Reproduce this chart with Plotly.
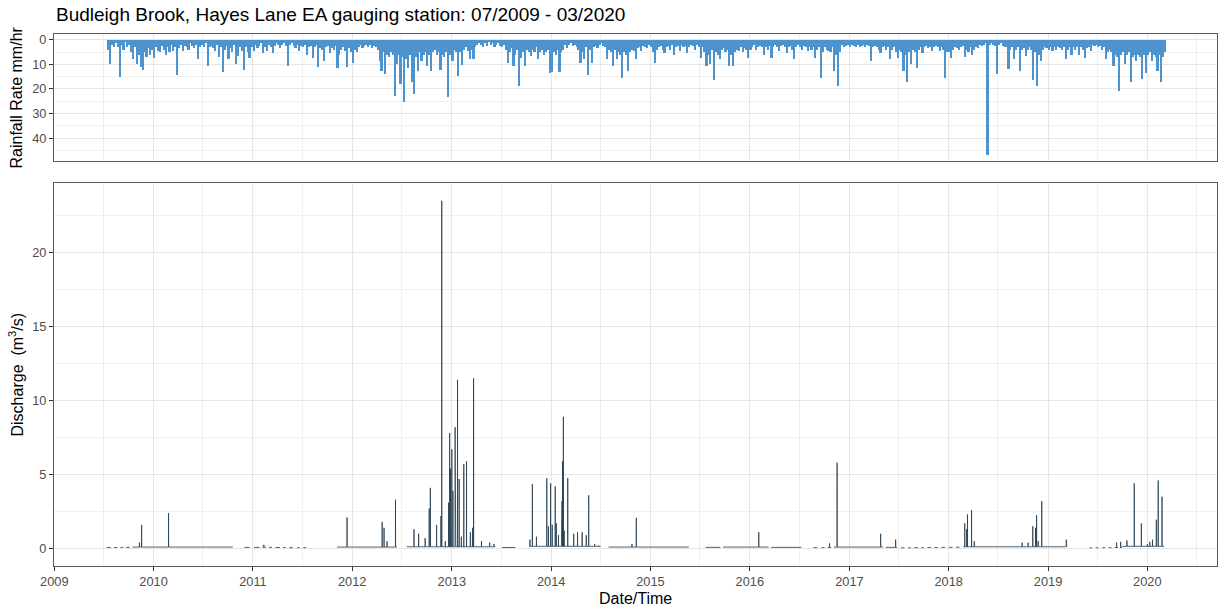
import pandas as pd
import plotly.graph_objects as go

# ---------------------------------------------------------------
# Weekly peak rainfall rate (mm/hr), one list per calendar year.
# Values start at the week index given in RAIN_FIRST_WEEK.
# ---------------------------------------------------------------
rain_2009 = [4, 10, 2, 3, 1.5, 3, 15.2, 2, 4, 1, 3, 2, 5, 8, 3, 10, 6, 11, 12.4, 5, 7, 3.5, 6, 4]
rain_2010 = [7.4, 3, 4.5, 5, 2.5, 4, 6, 3, 5, 2, 4.5, 3, 14.4, 3.5, 2, 4.7, 2.5, 3, 4, 1.5, 2.5, 3.5, 2, 8, 3, 2,
             3, 1.5, 10.5, 3, 2.5, 3.5, 4.7, 2, 7, 3, 13.2, 4, 2.5, 8, 3.5, 5, 2, 10, 6.5, 3, 4.5, 12.1, 3, 5, 7.4, 3]
rain_2011 = [4.7, 2, 3.4, 2.5, 1.5, 5.4, 3, 4.7, 2, 3, 5.4, 2.5, 1.5, 2, 3.4, 2, 1.5, 2.5, 10.5, 2, 1.5, 2.5, 3.4, 2,
             4.7, 2.5, 3, 2, 6, 3, 2.5, 7.4, 3, 2, 11, 3.5, 4, 8.8, 3, 2.5, 5.4, 3.5, 4, 2.5, 11.5, 6.1, 4, 3, 4.5,
             11.2, 3.5, 5]
rain_2012 = [9.5, 4, 5, 3, 2, 3.4, 2.5, 2, 3, 2, 3.4, 2.5, 3, 4, 8.8, 12.8, 5, 14, 6, 7, 5, 6, 23, 10, 6, 18.2, 7,
             25.4, 8, 11.5, 6, 17, 22, 7, 12.8, 5, 8.8, 6, 5, 10.5, 6, 12.8, 5, 4, 6, 5, 12.5, 6, 7, 5, 23.4, 6]
rain_2013 = [8.8, 4, 5, 14.6, 5, 10.3, 4, 3, 4.5, 8, 4, 8, 3, 2, 1.5, 2, 3, 1.5, 2.5, 1, 2, 1.5, 3, 2, 1.5, 2.5, 3,
             2, 4, 9.5, 5, 3.5, 10.7, 6, 4, 19, 7.4, 5, 10.7, 4, 5, 6.8, 4, 5, 3, 8, 5, 4, 6, 5, 4, 13.6]
rain_2014 = [13, 5, 6, 4, 13, 5, 4, 2, 3.4, 2, 1.5, 2.5, 2, 3, 4, 9.5, 5, 8, 3, 14.4, 4, 9.5, 3, 2.5, 3.4, 2, 1.5,
             2.5, 3, 8, 4, 5, 10.7, 4, 8, 5, 6, 15.4, 5, 6, 12.8, 5, 4, 4.5, 8, 3.5, 3, 4.7, 2.5, 3, 3.4, 2]
rain_2015 = [3, 5, 9.4, 4, 3, 2.5, 4, 5.4, 3, 2.5, 4, 2, 6, 3, 2.5, 4.7, 2, 3, 2.5, 5.4, 3, 2, 2.5, 4, 2, 3, 7.4, 3,
             5, 10.7, 6, 10, 4, 16.3, 5, 6, 8, 4, 3.5, 5, 4, 10.7, 6, 10.7, 5, 4, 4.7, 3, 5, 3.5, 4, 7.4]
rain_2016 = [4, 3, 2, 4, 3, 2.5, 3, 6, 3, 4, 2.5, 7.4, 3, 2, 3, 4.7, 2.5, 2, 3, 5.4, 3, 2.5, 4, 8, 3, 2, 3, 4, 2.5,
             3, 4.7, 3, 4, 3, 7.4, 4, 3, 15.5, 5, 3, 4, 4.7, 5, 3, 12.8, 6, 19, 5, 2, 3, 2.5, 2]
rain_2017 = [3, 2, 2.5, 3, 2, 3, 2.5, 2, 3, 2, 2.5, 8.8, 3, 2.5, 3, 4, 5.4, 3, 2.5, 4, 3, 8, 4, 3, 5, 7.4, 4, 5,
             12.8, 6, 17, 5, 10, 4, 5, 11.5, 4, 3, 5.4, 3, 2.5, 3.5, 3, 4.7, 3, 2.5, 3, 4.7, 3, 4, 15.5, 5]
rain_2018 = [5, 7.4, 4, 3, 3.5, 4, 3, 2.5, 7, 4, 5, 3, 6, 4, 3, 3.5, 2, 2.5, 2, 1.5, 47, 2, 1.5, 2, 2.5, 14, 2, 1.5,
             2.5, 3, 3, 12, 4, 3, 8, 4, 3, 12.8, 4, 3.5, 6.8, 4, 3, 4, 16.3, 5, 19, 6, 8.8, 4, 3, 3.5]
rain_2019 = [4, 3, 4.5, 3, 4, 3, 3.5, 4, 3, 8, 4, 3, 6, 3, 4, 3, 6, 3, 4, 7.4, 3.5, 3, 4.7, 2, 2.5, 2, 3, 2.5, 4, 3,
             8, 5, 4, 5, 10.7, 6, 7, 21, 6, 5, 10, 6, 5, 17, 7, 6, 8.8, 6, 7, 16, 6, 13.5]
rain_2020 = [6, 5, 8.8, 6, 7, 12.8, 6, 17.2, 7, 5]

RAIN_YEARS = [2009, 2010, 2011, 2012, 2013, 2014, 2015, 2016, 2017, 2018, 2019, 2020]
RAIN_LISTS = [rain_2009, rain_2010, rain_2011, rain_2012, rain_2013, rain_2014,
              rain_2015, rain_2016, rain_2017, rain_2018, rain_2019, rain_2020]
RAIN_FIRST_WEEK = [28, 0, 0, 0, 0, 0, 0, 0, 0, 0, 0, 0]

# ---------------------------------------------------------------
# River discharge (m3/s): baseflow runs and storm peaks.
# ---------------------------------------------------------------
flow_run_start = ["2009-07-13", "2009-08-08", "2009-09-01", "2009-09-22", "2009-10-15",
                  "2010-12-01", "2011-01-05", "2011-02-05", "2011-03-01", "2011-03-25", "2011-04-22",
                  "2011-05-15", "2011-06-12", "2011-07-05",
                  "2011-11-06", "2012-07-19", "2013-07-05", "2013-10-12", "2014-07-31",
                  "2015-07-23", "2015-09-25", "2016-03-20",
                  "2016-08-22", "2016-09-20", "2016-10-14", "2016-11-05", "2017-05-15",
                  "2017-07-10", "2017-08-05", "2017-08-28", "2017-09-22", "2017-10-15", "2017-11-10",
                  "2017-12-05", "2018-01-02", "2018-01-28",
                  "2018-02-24",
                  "2019-06-03", "2019-06-25", "2019-07-20", "2019-08-12", "2019-09-03", "2019-09-22",
                  "2019-10-01"]
flow_run_end = ["2009-07-28", "2009-08-20", "2009-09-12", "2009-10-05", "2010-10-19",
                "2010-12-20", "2011-01-25", "2011-02-18", "2011-03-12", "2011-04-10", "2011-05-02",
                "2011-05-28", "2011-06-22", "2011-07-16",
                "2012-06-13", "2013-06-10", "2013-08-22", "2014-07-02", "2015-05-22",
                "2015-09-15", "2016-03-10", "2016-07-08",
                "2016-09-05", "2016-10-02", "2016-10-26", "2017-05-05", "2017-06-25",
                "2017-07-22", "2017-08-15", "2017-09-10", "2017-10-02", "2017-10-28", "2017-11-22",
                "2017-12-18", "2018-01-15", "2018-02-10",
                "2019-03-11",
                "2019-06-12", "2019-07-05", "2019-07-30", "2019-08-22", "2019-09-15", "2019-09-30",
                "2020-03-03"]
flow_run_level = [0.07, 0.07, 0.08, 0.08, 0.1,
                  0.08, 0.08, 0.09, 0.08, 0.07, 0.07,
                  0.06, 0.06, 0.06,
                  0.1, 0.12, 0.07, 0.15, 0.1,
                  0.08, 0.1, 0.08,
                  0.06, 0.06, 0.07, 0.1, 0.08,
                  0.05, 0.05, 0.06, 0.06, 0.07, 0.07,
                  0.08, 0.08, 0.09,
                  0.12,
                  0.05, 0.05, 0.06, 0.06, 0.07, 0.07,
                  0.15]

peak_dates = ["2009-11-10", "2009-11-18", "2010-02-25", "2011-02-10",
              "2011-12-13", "2012-04-20", "2012-04-27", "2012-05-08", "2012-06-08",
              "2012-08-15", "2012-09-01", "2012-09-25", "2012-10-10", "2012-10-14", "2012-11-06",
              "2012-11-22", "2012-11-25", "2012-12-08", "2012-12-20", "2012-12-24", "2012-12-27",
              "2013-01-01", "2013-01-05", "2013-01-13", "2013-01-15", "2013-01-22", "2013-01-28",
              "2013-02-05", "2013-02-14", "2013-02-24", "2013-03-10", "2013-03-18", "2013-03-22",
              "2013-04-20", "2013-05-20", "2013-06-05",
              "2013-10-15", "2013-10-24", "2013-11-08", "2013-12-16", "2013-12-22", "2013-12-30",
              "2014-01-05", "2014-01-16", "2014-01-20", "2014-01-28", "2014-02-08", "2014-02-10",
              "2014-02-12", "2014-02-15", "2014-02-18", "2014-03-03", "2014-03-25", "2014-04-08",
              "2014-04-25", "2014-05-10", "2014-05-19", "2014-06-10", "2014-06-25",
              "2014-10-25", "2014-11-10", "2016-02-03", "2016-10-20", "2016-11-17",
              "2017-04-26", "2017-06-20",
              "2018-03-01", "2018-03-08", "2018-03-11", "2018-03-26", "2018-04-05",
              "2018-09-28", "2018-10-20", "2018-11-06", "2018-11-16", "2018-11-20", "2018-11-26",
              "2018-12-09", "2019-03-09",
              "2019-09-10", "2019-09-25", "2019-10-18", "2019-11-14", "2019-12-10",
              "2020-01-01", "2020-01-10", "2020-01-20", "2020-02-03", "2020-02-10", "2020-02-24"]
peak_values = [0.4, 1.6, 2.4, 0.25,
               2.1, 1.8, 1.4, 0.5, 3.3,
               1.3, 1.0, 0.7, 2.7, 4.1, 1.6,
               2.2, 23.5, 0.5, 3.1, 7.8, 5.4,
               6.7, 3.9, 8.2, 4.7, 11.4, 4.7,
               0.8, 5.7, 5.9, 1.1, 1.4, 11.5,
               0.5, 0.4, 0.3,
               0.6, 4.35, 0.8, 4.75, 1.5, 4.4,
               1.6, 4.2, 1.7, 0.9, 2.4, 3.2,
               5.9, 8.9, 1.2, 4.75, 1.0, 1.1,
               1.1, 0.9, 3.6, 0.3, 0.2,
               0.3, 2.07, 1.1, 0.35, 5.8,
               1.0, 0.6,
               1.7, 1.3, 2.3, 2.6, 0.5,
               0.4, 0.4, 1.5, 1.4, 2.25, 0.5,
               3.2, 0.6,
               0.4, 0.45, 0.55, 4.4, 1.7,
               0.3, 0.45, 0.6, 1.95, 4.6, 3.5]

TITLE = "Budleigh Brook, Hayes Lane EA gauging station: 07/2009 - 03/2020"
X_RANGE = ["2008-12-31", "2020-09-13"]

RAIN_COLOR = "#4d94cf"
FLOW_COLOR = "#243c4e"
GRID_MAJOR = "#e6e6e6"
GRID_MINOR = "#efefef"
FRAME = "#5a5a5a"
TICK_TEXT = "#4d4d4d"
FONT = "Liberation Sans, Arial, sans-serif"

# ---- assemble the weekly rainfall bars ----
rain_x, rain_y = [], []
for year, values, first in zip(RAIN_YEARS, RAIN_LISTS, RAIN_FIRST_WEEK):
    jan1 = pd.Timestamp(f"{year}-01-01")
    for i, v in enumerate(values):
        rain_x.append(jan1 + pd.Timedelta(days=7 * (first + i) + 3.5))
        rain_y.append(v)

# ---- assemble the discharge trace ----
peaks = sorted(zip(pd.to_datetime(peak_dates), peak_values))
half = pd.Timedelta(hours=8)
flow_x, flow_y = [], []
for s, e, lvl in zip(flow_run_start, flow_run_end, flow_run_level):
    s, e = pd.Timestamp(s), pd.Timestamp(e)
    flow_x.append(s)
    flow_y.append(lvl)
    for d, p in peaks:
        if s <= d <= e:
            flow_x += [d - half, d, d + half]
            flow_y += [lvl, p, lvl]
    flow_x.append(e)
    flow_y.append(lvl)
    flow_x.append(None)
    flow_y.append(None)

fig = go.Figure()
fig.add_trace(go.Bar(
    x=rain_x, y=rain_y, width=6.2 * 86400000,
    marker=dict(color=RAIN_COLOR, line=dict(width=0)),
    xaxis="x", yaxis="y", showlegend=False, hoverinfo="x+y",
))
fig.add_trace(go.Scatter(
    x=flow_x, y=flow_y, mode="lines", connectgaps=False,
    line=dict(color=FLOW_COLOR, width=0.8),
    xaxis="x2", yaxis="y2", showlegend=False,
))

X_DOMAIN = [54 / 1225, 1217 / 1225]

common_x = dict(
    type="date", range=X_RANGE, domain=X_DOMAIN, automargin=False,
    tick0="2009-01-01", dtick="M12",
    showgrid=True, gridcolor=GRID_MAJOR, gridwidth=1,
    minor=dict(showgrid=True, gridcolor=GRID_MINOR, gridwidth=1, dtick="M6", tick0="2009-01-01"),
    showline=True, mirror=True, linecolor=FRAME, linewidth=1,
    zeroline=False, tickfont=dict(family=FONT, size=12.8, color=TICK_TEXT),
)
common_y = dict(
    automargin=False,
    showgrid=True, gridcolor=GRID_MAJOR, gridwidth=1,
    showline=True, mirror=True, linecolor=FRAME, linewidth=1,
    zeroline=False, ticks="outside", ticklen=4, tickcolor="#333333", tickwidth=1,
    tickfont=dict(family=FONT, size=12.8, color=TICK_TEXT),
)

fig.update_layout(
    width=1225, height=611,
    margin=dict(l=0, r=0, t=0, b=0, autoexpand=False),
    paper_bgcolor="white", plot_bgcolor="white",
    font=dict(family=FONT, color="black"),
    bargap=0,
    xaxis=dict(common_x, anchor="y", showticklabels=False, ticks=""),
    yaxis=dict(common_y, domain=[1 - 161 / 611, 1 - 34 / 611], anchor="x",
               range=[49.35, -2.35], tickvals=[0, 10, 20, 30, 40],
               minor=dict(showgrid=True, gridcolor=GRID_MINOR, gridwidth=1, dtick=5, tick0=0)),
    xaxis2=dict(common_x, anchor="y2", matches="x", ticks="outside", ticklen=4,
                tickcolor="#333333", tickwidth=1, showticklabels=True),
    yaxis2=dict(common_y, domain=[1 - 566 / 611, 1 - 183 / 611], anchor="x2",
                range=[-1.18, 24.7], tickvals=[0, 5, 10, 15, 20],
                minor=dict(showgrid=True, gridcolor=GRID_MINOR, gridwidth=1, dtick=2.5, tick0=0)),
    annotations=[
        dict(text=TITLE, xref="paper", yref="paper", x=54 / 1225, y=1 - 15 / 611,
             xanchor="left", yanchor="middle", showarrow=False,
             font=dict(family=FONT, size=19, color="black")),
        dict(text="Rainfall Rate mm/hr", xref="paper", yref="paper", x=16 / 1225,
             y=1 - 97.5 / 611, xanchor="center", yanchor="middle", textangle=-90,
             showarrow=False, font=dict(family=FONT, size=16, color="black")),
        dict(text="Discharge  (m<sup>3</sup>/s)", xref="paper", yref="paper", x=16 / 1225,
             y=1 - 374.5 / 611, xanchor="center", yanchor="middle", textangle=-90,
             showarrow=False, font=dict(family=FONT, size=16, color="black")),
        dict(text="Date/Time", xref="paper", yref="paper", x=(54 + 1217) / 2 / 1225,
             y=1 - 598 / 611, xanchor="center", yanchor="middle", showarrow=False,
             font=dict(family=FONT, size=16, color="black")),
    ],
)

fig.write_html("out.html")
